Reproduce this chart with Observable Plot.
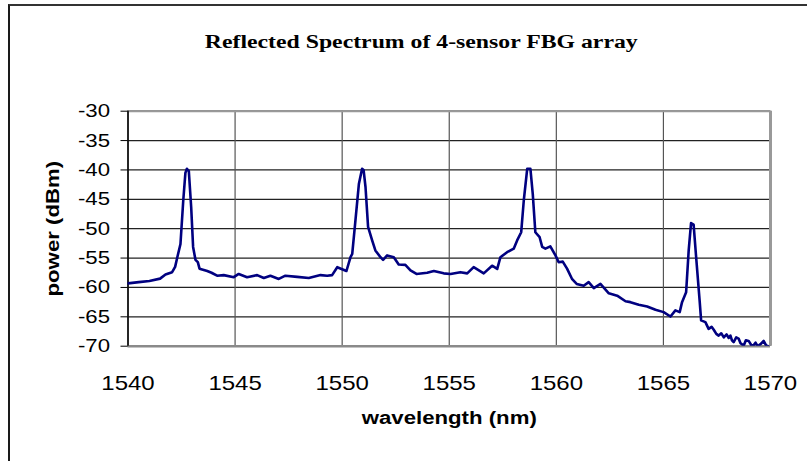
<!DOCTYPE html>
<html>
<head>
<meta charset="utf-8">
<script src="https://cdn.jsdelivr.net/npm/d3@7"></script>
<script src="https://cdn.jsdelivr.net/npm/@observablehq/plot@0.6"></script>
<style>
  html, body { margin: 0; padding: 0; background: #fff; }
  #wrap { position: relative; width: 807px; height: 461px; overflow: hidden; background: #fff; }
  #border { position: absolute; left: 8px; top: 4px; width: 820px; height: 480px; border-left: 2px solid #1a1a1a; border-top: 2px solid #333; }
  #chart { position: absolute; left: 0; top: 0; }
</style>
</head>
<body>
<div id="wrap"><div id="border"></div><div id="chart"></div></div>
<script>
const titleText = "Reflected Spectrum of 4-sensor FBG array";
const xLabel = "wavelength (nm)";
const yLabel = "power (dBm)";
const xTicks = [1540, 1545, 1550, 1555, 1560, 1565, 1570];
const yTicks = [-30, -35, -40, -45, -50, -55, -60, -65, -70];

const wavelength = [
  1540.0, 1540.5, 1541.0, 1541.5, 1541.75, 1542.06, 1542.2, 1542.3, 1542.45, 1542.58,
  1542.68, 1542.75, 1542.84, 1542.95, 1543.04, 1543.15, 1543.26, 1543.34, 1543.7, 1543.9,
  1544.16, 1544.47, 1544.94, 1545.17, 1545.56, 1546.03, 1546.34, 1546.65, 1547.04, 1547.35,
  1547.9, 1548.44, 1548.99, 1549.3, 1549.53, 1549.77, 1550.2, 1550.39, 1550.47, 1550.62,
  1550.78, 1550.93, 1551.0, 1551.09, 1551.21, 1551.4, 1551.55, 1551.79, 1551.91, 1552.1,
  1552.41, 1552.64, 1552.95, 1553.19, 1553.47, 1553.97, 1554.28, 1554.74, 1555.06, 1555.52,
  1555.84, 1556.14, 1556.61, 1557.0, 1557.24, 1557.39, 1557.7, 1558.01, 1558.17, 1558.36,
  1558.48, 1558.64, 1558.79, 1558.9, 1559.02, 1559.22, 1559.34, 1559.49, 1559.72, 1559.96,
  1560.11, 1560.3, 1560.5, 1560.74, 1560.95, 1561.28, 1561.51, 1561.75, 1562.06, 1562.45,
  1562.84, 1563.23, 1563.46, 1563.85, 1564.24, 1564.63, 1565.01, 1565.33, 1565.56, 1565.76,
  1565.87, 1566.06, 1566.18, 1566.29, 1566.41, 1566.54, 1566.69, 1566.76, 1566.96, 1567.11,
  1567.25, 1567.35, 1567.47, 1567.58, 1567.7, 1567.82, 1567.95, 1568.05, 1568.13, 1568.2,
  1568.28, 1568.4, 1568.51, 1568.6, 1568.75, 1568.85, 1568.98, 1569.1, 1569.2, 1569.3,
  1569.4, 1569.55, 1569.68, 1569.8, 1569.9
];
const power = [
  -59.3, -59.1, -58.9, -58.5, -57.8, -57.4, -56.5, -54.9, -52.6, -45.2,
  -40.5, -39.8, -40.2, -46.3, -53.1, -55.3, -55.7, -56.8, -57.2, -57.5,
  -58.0, -57.9, -58.25, -57.7, -58.25, -57.9, -58.4, -58.0, -58.55, -58.0,
  -58.2, -58.4, -57.9, -58.0, -57.9, -56.55, -57.2, -54.85, -54.3, -48.6,
  -42.4, -39.8, -40.0, -42.9, -49.7, -52.0, -53.7, -54.85, -55.3, -54.55,
  -54.85, -56.1, -56.15, -57.1, -57.7, -57.5, -57.2, -57.6, -57.7, -57.4,
  -57.6, -56.55, -57.6, -56.3, -56.85, -54.85, -54.0, -53.4, -52.0, -50.6,
  -45.2, -39.8, -39.8, -44.1, -50.6, -51.45, -53.1, -53.4, -53.0, -54.55,
  -55.7, -55.6, -56.8, -58.6, -59.4, -59.7, -59.1, -60.1, -59.4, -61.0,
  -61.4, -62.35, -62.5, -62.95, -63.25, -63.8, -64.2, -64.95, -63.9, -64.2,
  -62.5, -60.8, -53.7, -49.05, -49.3, -55.4, -62.2, -65.6, -65.9, -67.05,
  -66.7, -67.2, -67.9, -68.2, -67.8, -68.5, -68.0, -68.6, -68.2, -69.0,
  -69.3, -68.5, -68.7, -69.5, -69.9, -69.0, -69.1, -69.8, -69.9, -69.4,
  -70.0, -69.6, -69.1, -69.9, -70.0
];

const data = wavelength.map((w, i) => ({w, p: power[i]}));

const chart = Plot.plot({
  width: 807,
  height: 461,
  marginLeft: 127.5,
  marginRight: 37,
  marginTop: 110.7,
  marginBottom: 115.3,
  style: {fontFamily: "'Liberation Sans', Arial, sans-serif", background: "transparent", color: "#000"},
  x: {domain: [1540, 1570]},
  y: {domain: [-70, -30]},
  marks: [
    Plot.gridY(yTicks, {stroke: "#222", strokeOpacity: 1, strokeWidth: 1.2}),
    Plot.gridX(xTicks, {stroke: "#555", strokeOpacity: 1, strokeWidth: 1.2}),
    Plot.ruleY([-30], {stroke: "#999", strokeWidth: 2}),
    Plot.ruleY([-70], {stroke: "#8a8a8a", strokeWidth: 2.5}),
    Plot.ruleX([1570], {stroke: "#999", strokeWidth: 3}),
    Plot.ruleX([1540], {stroke: "#000", strokeWidth: 1.5}),
    Plot.axisY(yTicks, {tickSize: 7, tickPadding: 11, fontSize: 18.5, label: null, stroke: "#000", tickFormat: d => String(d)}),
    Plot.axisX(xTicks, {tickSize: 0, tickPadding: 30, fontSize: 20, label: null, tickFormat: d => String(d)}),
    Plot.line(data, {x: "w", y: "p", stroke: "#000080", strokeWidth: 2.6, clip: true}),
    Plot.text([titleText], {frameAnchor: "top", dx: -28, dy: -70, text: d => d, fontFamily: "'Liberation Serif', 'Times New Roman', serif", fontWeight: "bold", fontSize: 19.8, lineAnchor: "middle"}),
    Plot.text([xLabel], {frameAnchor: "bottom", dy: 72, text: d => d, fontWeight: "bold", fontSize: 18.5, lineAnchor: "middle"}),
    Plot.text([yLabel], {frameAnchor: "left", dx: -75, rotate: -90, text: d => d, fontWeight: "bold", fontSize: 18.5, lineAnchor: "middle", textAnchor: "middle"})
  ]
});

// Widen glyphs along the text direction to match the wide rendering of the original
chart.querySelectorAll("text").forEach(t => {
  const xa = t.getAttribute("x");
  const x = xa != null && !/em$/.test(xa) ? (+xa || 0) : 0;
  if (xa != null && !/em$/.test(xa)) t.removeAttribute("x");
  const tr = t.getAttribute("transform") || "";
  t.setAttribute("transform", `${tr} translate(${x},0) scale(1.2,1)`);
});

document.getElementById("chart").appendChild(chart);
</script>
</body>
</html>
